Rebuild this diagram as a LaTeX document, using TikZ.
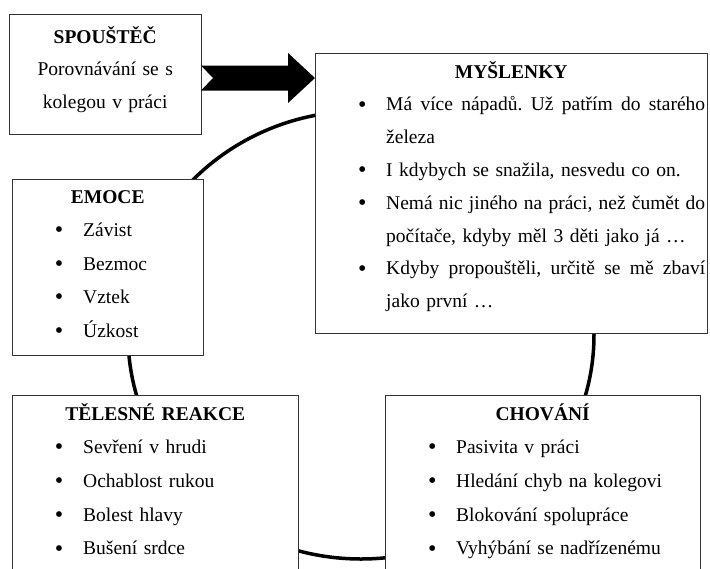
\documentclass[tikz,border=0pt]{standalone}
\usepackage{fontspec}
\setmainfont{Liberation Serif}
\newcommand\bigbullet{\raisebox{-1.2pt}{\fontsize{24}{24}\selectfont\textbullet}}
\newcommand\bitem[1]{\par\noindent\hspace*{47pt}\makebox[0pt]{\bigbullet}\hspace*{24pt}#1}
\newcommand\contline[1]{\par\noindent\hspace*{71pt}#1}
\newcommand\boxtitle[1]{\noindent\makebox[\linewidth]{\textbf{#1}}}
\newcommand\justline[1]{\makebox[319pt][l]{#1}}
\tikzset{
  box/.style={draw=black!80, line width=1pt, fill=white, inner sep=0pt},
  content/.style={anchor=base west, inner sep=0pt, text width=#1},
  cycleline/.style={line width=3.5pt, black},
  bigarrow/.style={fill=black, draw=none},
}
\begin{document}
\begin{tikzpicture}[x=1pt,y=-1pt]
\useasboundingbox (0,0) rectangle (710,568);
\clip (0,0) rectangle (710,568);
\fill[white] (0,0) rectangle (710,568);
% cycle
\draw[cycleline] (361,335) ellipse [x radius=233pt, y radius=224pt];
% boxes
\node[box, minimum width=192pt, minimum height=120pt] (spoust) at (105,74) {};
\node[box, minimum width=392pt, minimum height=280pt] (mysl) at (511,193) {};
\node[box, minimum width=191pt, minimum height=176pt] (emoce) at (107.5,267) {};
\node[box, minimum width=286pt, minimum height=195pt] (teles) at (155,492.5) {};
\node[box, minimum width=315pt, minimum height=195pt] (chov) at (542.5,492.5) {};
% arrow
\fill[bigarrow] (201,65.5) -- (288,65.5) -- (288,53) -- (315,78) -- (288,103)
  -- (288,90.5) -- (201,90.5) -- (213,78) -- cycle;
% texts
\node[content=192pt, font=\fontsize{19.5}{32.5}\selectfont] (spoustT) at (9,43)
  {\boxtitle{SPOUŠTĚČ}\par
   \noindent\makebox[\linewidth]{Porovnávání se s}\par
   \noindent\makebox[\linewidth]{kolegou v práci}\par};
\node[content=392pt, font=\fontsize{19.5}{32.8}\selectfont] (myslT) at (315,78) {%
  \boxtitle{MYŠLENKY}
  \bitem{\justline{Má\hfill více\hfill nápadů.\hfill Už\hfill patřím\hfill do\hfill starého}}
  \contline{železa}
  \bitem{I kdybych se snažila, nesvedu co on.}
  \bitem{\justline{Nemá\hfill nic\hfill jiného\hfill na\hfill práci,\hfill než\hfill čumět\hfill do}}
  \contline{počítače, kdyby měl 3 děti jako já \dots}
  \bitem{\justline{Kdyby\hfill propouštěli,\hfill určitě\hfill se\hfill mě\hfill zbaví}}
  \contline{jako první \dots}\par};
\node[content=191pt, font=\fontsize{19.5}{33.5}\selectfont] (emoceT) at (12,203) {%
  \boxtitle{EMOCE}
  \bitem{Závist}
  \bitem{Bezmoc}
  \bitem{Vztek}
  \bitem{Úzkost}\par};
\node[content=286pt, font=\fontsize{19.5}{33.7}\selectfont] (telesT) at (12,420) {%
  \boxtitle{TĚLESNÉ REAKCE}
  \bitem{Sevření v hrudi}
  \bitem{Ochablost rukou}
  \bitem{Bolest hlavy}
  \bitem{Bušení srdce}\par};
\node[content=315pt, font=\fontsize{19.5}{33.7}\selectfont] (chovT) at (385,420) {%
  \boxtitle{CHOVÁNÍ}
  \bitem{Pasivita v práci}
  \bitem{Hledání chyb na kolegovi}
  \bitem{Blokování spolupráce}
  \bitem{Vyhýbání se nadřízenému}\par};
\end{tikzpicture}
\end{document}
